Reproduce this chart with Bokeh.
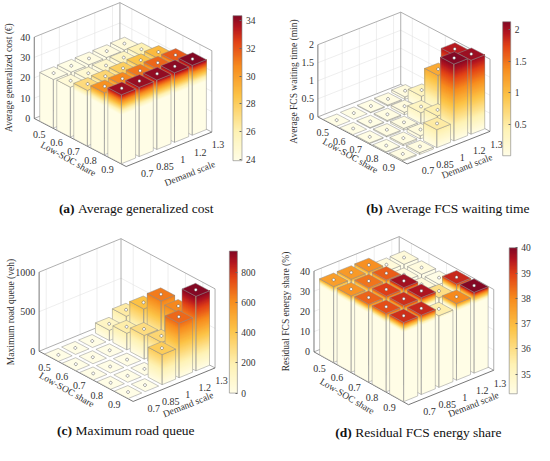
import math
from bokeh.plotting import figure
from bokeh.models import Range1d, ColorBar, LinearColorMapper, FixedTicker, ColumnDataSource
from bokeh.embed import file_html
from bokeh.resources import INLINE
from bokeh.core.properties import value

# ---------------- data ----------------
soc_ticks = ["0.5", "0.6", "0.7", "0.8", "0.9"]          # Low-SOC share (rows)
demand_ticks = ["0.7", "0.85", "1", "1.2", "1.3"]         # Demand scale (columns)

avg_cost = [
    [23.9, 24.0, 24.1, 24.2, 24.4],
    [24.5, 24.7, 25.0, 25.4, 26.0],
    [27.3, 27.6, 28.0, 28.5, 29.0],
    [30.5, 30.8, 31.2, 31.6, 31.9],
    [33.9, 34.0, 34.1, 34.2, 34.36],
]
wait_time = [
    [0.00, 0.01, 0.02, 0.03, 0.07],
    [0.01, 0.02, 0.03, 0.07, 0.33],
    [0.02, 0.03, 0.05, 0.30, 1.15],
    [0.02, 0.04, 0.09, 0.45, 1.95],
    [0.03, 0.05, 0.50, 2.13, 2.05],
]
max_queue = [
    [0, 0, 0, 130, 220],
    [0, 0, 0, 210, 430],
    [0, 0, 0, 300, 650],
    [0, 0, 0, 330, 620],
    [0, 0, 380, 690, 942],
]
resid_share = [
    [37.6, 37.7, 37.9, 34.5, 34.5],
    [37.8, 38.3, 38.6, 34.4, 34.4],
    [38.5, 39.0, 39.7, 34.5, 34.23],
    [38.8, 39.2, 39.6, 36.0, 39.3],
    [39.2, 39.3, 35.5, 38.0, 40.0],
]

z_ticks_a = [0, 10, 20, 30, 40]
z_ticks_b = [0, 0.5, 1, 1.5, 2]
z_ticks_c = [0, 500, 1000]
z_ticks_d = [0, 10, 20, 30, 40]
cb_ticks_a = [24, 26, 28, 30, 32, 34]
cb_ticks_b = [0.5, 1, 1.5, 2]
cb_ticks_c = [0, 200, 400, 600, 800]
cb_ticks_d = [35, 36, 37, 38, 39, 40]

z_titles = ["Average generalized cost (\u20ac)", "Average FCS waiting time (min)",
            "Maximum road queue (veh)", "Residual FCS energy share (%)"]
cap_tags = ["(a)", "(b)", "(c)", "(d)"]
cap_texts = ["Average generalized cost", "Average FCS waiting time",
             "Maximum road queue", "Residual FCS energy share"]

# ---------------- layout / style ----------------
FONT = "Liberation Serif"
TXT = "#333333"
W, H = 534, 445
X0, X1, Y0, Y1 = 2, 551, 3, 453
SX, SY = W / (X1 - X0), H / (Y1 - Y0)

anchors = [(0.0, (255, 253, 230)), (0.2, (254, 242, 180)), (0.45, (252, 195, 70)),
           (0.65, (247, 140, 30)), (0.82, (226, 66, 22)), (0.92, (180, 22, 32)),
           (1.0, (132, 8, 36))]


def interp_color(t):
    for (t0, c0), (t1, c1) in zip(anchors[:-1], anchors[1:]):
        if t <= t1:
            f = (t - t0) / (t1 - t0)
            return "#%02x%02x%02x" % tuple(int(round(a + (b - a) * f)) for a, b in zip(c0, c1))
    return "#%02x%02x%02x" % anchors[-1][1]


PAL = [interp_color(n / 255) for n in range(256)]

panels = [
    dict(data=avg_cost, L=(36.7, 122.3), u=(17.5, 9.0), v=(18.2, -7.2), zmax=40, zpx=82.3,
         zt=z_ticks_a, zlab_xy=(10.8, 81), cb=(241, 18.3, 250, 165), cbt=cb_ticks_a,
         soc_xy=(71.7, 163.3), dem_xy=(196.7, 178), cap_x=81.7, cap_y=213.3),
    dict(data=wait_time, L=(328.3, 120.7), u=(17.0, 8.8), v=(17.6, -6.8), zmax=2, zpx=73,
         zt=z_ticks_b, zlab_xy=(303.3, 85), cb=(518.3, 24.3, 526.3, 160), cbt=cb_ticks_b,
         soc_xy=(361.7, 160), dem_xy=(481.7, 170.7), cap_x=398.5, cap_y=213.3),
    dict(data=max_queue, L=(41.7, 357.7), u=(17.9, 9.4), v=(17.4, -7.0), zmax=1000, zpx=80,
         zt=z_ticks_c, zlab_xy=(13.3, 318), cb=(237.3, 256.7, 246, 400), cbt=cb_ticks_c,
         soc_xy=(70, 396.7), dem_xy=(195, 411.7), cap_x=79, cap_y=438.3),
    dict(data=resid_share, L=(324.3, 358.3), u=(18.0, 9.9), v=(18.1, -7.2), zmax=40, zpx=81.7,
         zt=z_ticks_d, zlab_xy=(295.7, 317.5), cb=(525, 253.3, 533, 400.7), cbt=cb_ticks_d,
         soc_xy=(358.3, 403.3), dem_xy=(488.3, 411.7), cap_x=366.7, cap_y=440),
]

I0, I1, J0, J1 = -0.7, 4.7, -0.42, 4.42
HW = 0.4

p = figure(width=W, height=H, x_range=Range1d(X0, X1), y_range=Range1d(Y1, Y0),
           output_backend="svg", toolbar_location=None, min_border=0,
           x_axis_type=None, y_axis_type=None, outline_line_color=None,
           background_fill_color="white", border_fill_color="white")

poly = dict(xs=[], ys=[], fc=[], fa=[], lc=[], la=[], lw=[])
lines = dict(xs=[], ys=[], c=[], w=[])
texts = []  # (x, y, text, angle_deg, align, baseline, size, style, color)


def add_poly(pts, fill=None, line=None, width=0.5):
    poly["xs"].append([q[0] for q in pts])
    poly["ys"].append([q[1] for q in pts])
    poly["fc"].append(fill or "#ffffff")
    poly["fa"].append(1.0 if fill else 0.0)
    poly["lc"].append(line or "#000000")
    poly["la"].append(1.0 if line else 0.0)
    poly["lw"].append(width)


def add_line(pts, color, width):
    lines["xs"].append([q[0] for q in pts])
    lines["ys"].append([q[1] for q in pts])
    lines["c"].append(color)
    lines["w"].append(width)


for pi, P in enumerate(panels):
    data = P["data"]
    Lx, Ly = P["L"]
    ux, uy = P["u"]
    vx, vy = P["v"]
    k = P["zpx"] / P["zmax"]
    lo = min(min(r) for r in data)
    hi = max(max(r) for r in data)

    def proj(i, j, z, Lx=Lx, Ly=Ly, ux=ux, uy=uy, vx=vx, vy=vy, k=k):
        di, dj = i - I0, j - J0
        return (Lx + di * ux + dj * vx, Ly + di * uy + dj * vy - z * k)

    def cmap(z, lo=lo, hi=hi):
        t = min(max((z - lo) / (hi - lo), 0.0), 1.0)
        return PAL[int(round(t * 255))]

    zm = P["zmax"]
    GRID, FGRID, BOX, AX = "#e3e3e3", "#efefef", "#9a9a9a", "#555555"
    # back-left wall (i = I0)
    for j in range(5):
        add_line([proj(I0, j, 0), proj(I0, j, zm)], GRID, 0.6)
    for z in P["zt"][1:-1]:
        add_line([proj(I0, J0, z), proj(I0, J1, z)], GRID, 0.6)
    # back-right wall (j = J1)
    for i in range(5):
        add_line([proj(i, J1, 0), proj(i, J1, zm)], GRID, 0.6)
    for z in P["zt"][1:-1]:
        add_line([proj(I0, J1, z), proj(I1, J1, z)], GRID, 0.6)
    # floor grid
    for i in range(5):
        add_line([proj(i, J0, 0), proj(i, J1, 0)], FGRID, 0.5)
    for j in range(5):
        add_line([proj(I0, j, 0), proj(I1, j, 0)], FGRID, 0.5)
    # box edges
    add_line([proj(I0, J0, zm), proj(I0, J1, zm), proj(I1, J1, zm)], BOX, 0.8)
    add_line([proj(I0, J1, 0), proj(I0, J1, zm)], BOX, 0.8)
    add_line([proj(I1, J1, 0), proj(I1, J1, zm)], BOX, 0.8)
    add_line([proj(I0, J0, 0), proj(I0, J1, 0), proj(I1, J1, 0)], BOX, 0.8)
    # axes
    add_line([proj(I0, J0, 0), proj(I0, J0, zm)], AX, 0.8)
    add_line([proj(I0, J0, 0), proj(I1, J0, 0), proj(I1, J1, 0)], AX, 0.8)

    # bars, back to front
    order = sorted(((i, j) for i in range(5) for j in range(5)), key=lambda t: (t[0] - t[1], t[0]))
    EDGE = "#8c8c8c"
    for (i, j) in order:
        h = data[i][j]
        a0, a1, b0, b1 = i - HW, i + HW, j - HW, j + HW
        if h * k > 0.6:
            faces = [((a0, b0), (a1, b0)), ((a1, b0), (a1, b1))]
            for (s0, s1) in faces:
                add_poly([proj(s0[0], s0[1], 0), proj(s1[0], s1[1], 0),
                          proj(s1[0], s1[1], h), proj(s0[0], s0[1], h)], fill=PAL[0])
                zs = max(lo, 0.0)
                if h > zs:
                    n = max(1, int(math.ceil((h - zs) * k / 1.0)))
                    dz = (h - zs) / n
                    for m in range(n):
                        z0 = zs + m * dz
                        add_poly([proj(s0[0], s0[1], z0), proj(s1[0], s1[1], z0),
                                  proj(s1[0], s1[1], h), proj(s0[0], s0[1], h)],
                                 fill=cmap(z0 + dz / 2))
            for (s0, s1) in faces:
                add_poly([proj(s0[0], s0[1], 0), proj(s1[0], s1[1], 0),
                          proj(s1[0], s1[1], h), proj(s0[0], s0[1], h)], line=EDGE, width=0.5)
        add_poly([proj(a0, b0, h), proj(a1, b0, h), proj(a1, b1, h), proj(a0, b1, h)],
                 fill=cmap(h), line=EDGE, width=0.5)
        cx, cy = proj(i, j, h)
        add_poly([(cx + 1.5 * math.cos(t * math.pi / 6), cy + 1.5 * math.sin(t * math.pi / 6))
                  for t in range(12)], fill="#ffffff", line="#555555", width=0.5)

    # tick labels
    for z in P["zt"]:
        x, y = proj(I0, J0, z)
        texts.append((x - 4, y, "%g" % z, 0, "right", "middle", "10px", "normal", TXT))
    for i, lab in enumerate(soc_ticks):
        x, y = proj(i, J0, 0)
        texts.append((x - 7, y + 9.5, lab, 0, "center", "middle", "10px", "normal", TXT))
    for j, lab in enumerate(demand_ticks):
        x, y = proj(I1, j, 0)
        texts.append((x + 14, y + 10, lab, 0, "center", "middle", "10px", "normal", TXT))
    # axis titles
    ang_u = -math.degrees(math.atan2(uy, ux)) - 2
    ang_v = -math.degrees(math.atan2(vy, vx))
    texts.append((P["soc_xy"][0], P["soc_xy"][1], "Low-SOC share", ang_u, "center", "middle", "9.5px", "normal", TXT))
    texts.append((P["dem_xy"][0], P["dem_xy"][1], "Demand scale", ang_v, "center", "middle", "9.5px", "normal", TXT))
    texts.append((P["zlab_xy"][0], P["zlab_xy"][1], z_titles[pi], 90, "center", "middle", "9.5px", "normal", TXT))
    # caption: bold tag right-aligned just before the plain text
    texts.append((P["cap_x"] - 3.5, P["cap_y"], cap_tags[pi], 0, "right", "middle", "13.5px", "bold", "#111111"))
    texts.append((P["cap_x"], P["cap_y"], cap_texts[pi], 0, "left", "middle", "13.5px", "normal", "#111111"))

    # colour bar
    x0, y0, x1, y1 = P["cb"]
    mapper = LinearColorMapper(palette=PAL, low=lo, high=hi)
    cb = ColorBar(color_mapper=mapper, orientation="vertical",
                  location=((x0 - X0) * SX, H - (y1 - Y0) * SY),
                  width=int(round((x1 - x0) * SX)), height=int(round((y1 - y0) * SY)),
                  padding=0, margin=0, background_fill_alpha=0, border_line_color=None,
                  bar_line_color="#808080", bar_line_width=0.6,
                  ticker=FixedTicker(ticks=P["cbt"]),
                  major_label_overrides={t: ("%g" % t) for t in P["cbt"]},
                  major_label_text_font=FONT, major_label_text_font_size="9.5px",
                  major_label_text_color=TXT, label_standoff=4,
                  major_tick_in=2, major_tick_out=0, major_tick_line_color="#666666",
                  minor_tick_line_color=None)
    p.add_layout(cb)

p.multi_line(xs="xs", ys="ys", line_color="c", line_width="w", source=ColumnDataSource(lines))
p.patches(xs="xs", ys="ys", fill_color="fc", fill_alpha="fa", line_color="lc",
          line_alpha="la", line_width="lw", source=ColumnDataSource(poly))

groups = {}
for t in texts:
    groups.setdefault((t[4], t[5], t[6], t[7], t[8]), []).append(t)
for (al, bl, sz, st, col), items in groups.items():
    src = ColumnDataSource(dict(x=[t[0] for t in items], y=[t[1] for t in items],
                                text=[t[2] for t in items],
                                angle=[math.radians(t[3]) for t in items]))
    p.text(x="x", y="y", text="text", angle="angle", source=src, text_align=al,
           text_baseline=bl, text_font_size=sz, text_font_style=st,
           text_font=value(FONT), text_color=col)

open("out.html", "w").write(file_html(p, INLINE))
